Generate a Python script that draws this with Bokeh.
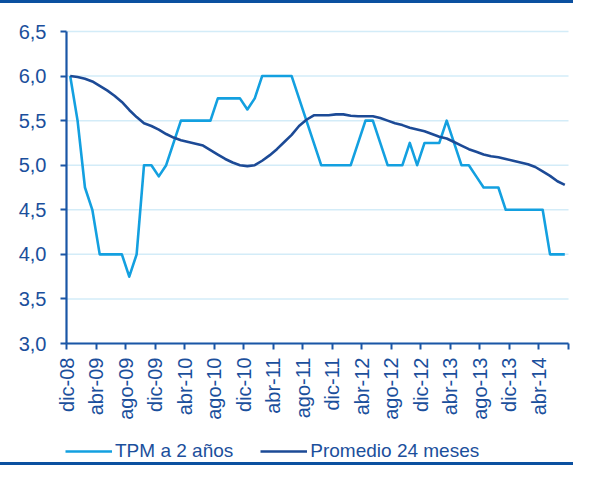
import math
from bokeh.plotting import figure
from bokeh.models import FixedTicker, Legend, LegendItem, Range1d
from bokeh.embed import file_html
from bokeh.resources import INLINE

# ---- data ----
x_tick_labels = ["dic-08", "abr-09", "ago-09", "dic-09", "abr-10", "ago-10", "dic-10",
                 "abr-11", "ago-11", "dic-11", "abr-12", "ago-12", "dic-12", "abr-13",
                 "ago-13", "dic-13", "abr-14"]

tpm_2_anos = [6.0, 5.5, 4.75, 4.5, 4.0, 4.0, 4.0, 4.0, 3.75, 4.0,
              5.0, 5.0, 4.875, 5.0, 5.25, 5.5, 5.5, 5.5, 5.5, 5.5,
              5.75, 5.75, 5.75, 5.75, 5.625, 5.75, 6.0, 6.0, 6.0, 6.0,
              6.0, 5.75, 5.5, 5.25, 5.0, 5.0, 5.0, 5.0, 5.0, 5.25,
              5.5, 5.5, 5.25, 5.0, 5.0, 5.0, 5.25, 5.0, 5.25, 5.25,
              5.25, 5.5, 5.25, 5.0, 5.0, 4.875, 4.75, 4.75, 4.75, 4.5,
              4.5, 4.5, 4.5, 4.5, 4.5, 4.0, 4.0, 4.0]

promedio_24 = [6.0, 5.99, 5.97, 5.94, 5.89, 5.84, 5.78, 5.71, 5.62, 5.54,
               5.47, 5.44, 5.40, 5.35, 5.31, 5.28, 5.26, 5.24, 5.22, 5.17,
               5.12, 5.07, 5.03, 5.00, 4.99, 5.00, 5.05, 5.11, 5.18, 5.26,
               5.34, 5.44, 5.51, 5.56, 5.56, 5.56, 5.57, 5.57, 5.555, 5.55,
               5.55, 5.55, 5.53, 5.50, 5.47, 5.45, 5.42, 5.40, 5.38, 5.35,
               5.32, 5.30, 5.26, 5.22, 5.18, 5.15, 5.12, 5.10, 5.09, 5.07,
               5.05, 5.03, 5.01, 4.98, 4.93, 4.88, 4.82, 4.78]

y_ticks = [3.0, 3.5, 4.0, 4.5, 5.0, 5.5, 6.0, 6.5]
y_tick_labels = ["3,0", "3,5", "4,0", "4,5", "5,0", "5,5", "6,0", "6,5"]

series_names = ["TPM a 2 años", "Promedio 24 meses"]

# ---- styles ----
FONT = "Liberation Sans"
TEXT_COLOR = "#1B4F9C"
AXIS_COLOR = "#1A56A6"
LIGHT = "#13A0E0"
DARK = "#1C4A96"
GRID = "#D3ECF8"
RULE = "#0B50A0"

# plot area placement on the canvas (pixels)
W, H = 573, 465
AREA_LEFT, AREA_RIGHT, AREA_TOP, AREA_BOTTOM = 66, 568, 31, 343

n = len(tpm_2_anos)
xs = [i + 0.5 for i in range(n)]
y_lo, y_hi = y_ticks[0], y_ticks[-1]

# the frame covers the whole canvas; axes are pinned at data positions
px_x = (AREA_RIGHT - AREA_LEFT) / n
px_y = (AREA_BOTTOM - AREA_TOP) / (y_hi - y_lo)
x_start = -AREA_LEFT / px_x
x_end = n + (W - AREA_RIGHT) / px_x
y_end = y_hi + AREA_TOP / px_y
y_start = y_hi - (H - AREA_TOP) / px_y

p = figure(width=W, height=H, output_backend="svg", toolbar_location=None,
           x_range=Range1d(x_start, x_end), y_range=Range1d(y_start, y_end),
           min_border_left=0, min_border_right=0, min_border_top=0,
           min_border_bottom=0)
p.outline_line_color = None
p.background_fill_alpha = 0
p.border_fill_alpha = 0
p.styles = {"box-shadow": "inset 0 3px 0 0 %s, inset 0 -3px 0 0 %s" % (RULE, RULE)}

# horizontal grid lines over the plot area only
p.xgrid.grid_line_color = None
p.ygrid.grid_line_color = None
p.segment(x0=[0] * len(y_ticks), x1=[n] * len(y_ticks), y0=y_ticks, y1=y_ticks,
          line_color=GRID, line_width=1.5)

r1 = p.line(xs, tpm_2_anos, line_color=LIGHT, line_width=2.6, line_join="round")
r2 = p.line(xs, promedio_24, line_color=DARK, line_width=2.6, line_join="round")

# x axis, pinned at y = 3.0
x_ticks = list(range(0, n + 1, 4))
p.xaxis.ticker = FixedTicker(ticks=x_ticks)
overrides = {t: "" for t in x_ticks}
for t, lab in zip(x_ticks, x_tick_labels):
    overrides[t] = lab
p.xaxis.major_label_overrides = overrides
p.xaxis.major_label_orientation = math.pi / 2
p.xaxis.fixed_location = y_lo
p.xaxis.bounds = (0, n)

# y axis, pinned at x = 0
p.yaxis.ticker = FixedTicker(ticks=y_ticks)
p.yaxis.major_label_overrides = {t: lab for t, lab in zip(y_ticks, y_tick_labels)}
p.yaxis.fixed_location = 0
p.yaxis.bounds = (y_lo, y_hi)

for ax in (p.xaxis[0], p.yaxis[0]):
    ax.axis_line_color = AXIS_COLOR
    ax.axis_line_width = 2.2
    ax.major_tick_line_color = AXIS_COLOR
    ax.major_tick_line_width = 2
    ax.major_tick_out = 6
    ax.major_tick_in = 0
    ax.minor_tick_line_color = None
    ax.major_label_text_font = FONT
    ax.major_label_text_font_size = "20px"
    ax.major_label_text_color = TEXT_COLOR
p.xaxis.major_label_standoff = 8
p.yaxis.major_label_standoff = 14

legend = Legend(items=[LegendItem(label=series_names[0], renderers=[r1]),
                       LegendItem(label=series_names[1], renderers=[r2])],
                location=(65, 3), orientation="horizontal",
                glyph_width=47, glyph_height=20, label_standoff=3, spacing=27,
                padding=0, margin=0, border_line_color=None,
                background_fill_alpha=0,
                label_text_font=FONT, label_text_font_size="19px",
                label_text_color=TEXT_COLOR)
p.add_layout(legend)

open("out.html", "w").write(file_html(p, INLINE))
